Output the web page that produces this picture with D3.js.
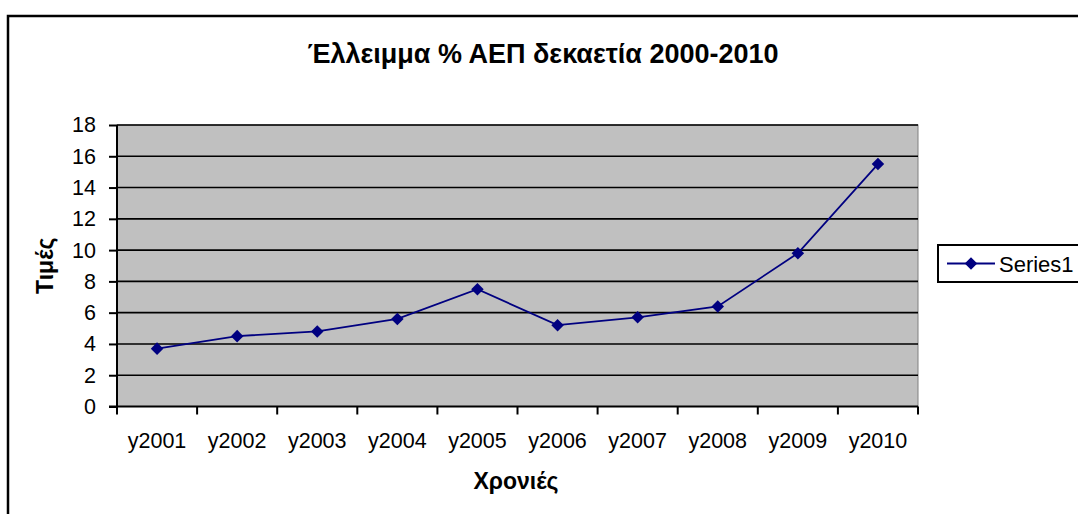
<!DOCTYPE html>
<html>
<head>
<meta charset="utf-8">
<script src="https://cdn.jsdelivr.net/npm/d3@7"></script>
<style>
	body { margin: 0; background: #fff; }
	svg text { font-family: "Liberation Sans", Arial, sans-serif; fill: #000; }
</style>
</head>
<body>
<svg id="chart" width="1078" height="514"></svg>
<script>
const years = ['y2001', 'y2002', 'y2003', 'y2004', 'y2005', 'y2006', 'y2007', 'y2008', 'y2009', 'y2010']
const values = [3.7, 4.5, 4.8, 5.6, 7.5, 5.2, 5.7, 6.4, 9.8, 15.5]
const yTicks = [0, 2, 4, 6, 8, 10, 12, 14, 16, 18]

const title = 'Έλλειμμα % ΑΕΠ δεκαετία 2000-2010'
const xTitle = 'Χρονιές'
const yTitle = 'Τιμές'
const seriesName = 'Series1'

const navy = '#000080'
const svg = d3.select('#chart')

// outer chart frame (runs off the right and bottom edge)
svg.append('rect')
	.attr('x', 8).attr('y', 16)
	.attr('width', 1100).attr('height', 520)
	.style('fill', 'none').style('stroke', '#000').style('stroke-width', 2.5)

const plot = { left: 117, top: 125, right: 918, bottom: 406.5 }

const x = d3.scaleBand()
	.domain(years)
	.range([plot.left, plot.right])

const y = d3.scaleLinear()
	.domain([0, 18])
	.range([plot.bottom, plot.top])

// plot background
svg.append('rect')
	.attr('x', plot.left).attr('y', plot.top)
	.attr('width', plot.right - plot.left).attr('height', plot.bottom - plot.top)
	.style('fill', '#c0c0c0').style('stroke', '#808080').style('stroke-width', 1)

// gridlines
svg.append('g').selectAll('line')
	.data(yTicks.filter(d => d > 0))
	.enter().append('line')
		.attr('x1', plot.left).attr('x2', plot.right)
		.attr('y1', d => y(d)).attr('y2', d => y(d))
		.style('stroke', '#000').style('stroke-width', 1.6)

// y axis
const yAxis = svg.append('g')
	.attr('transform', 'translate(' + plot.left + ',0)')
	.call(d3.axisLeft(y).tickValues(yTicks).tickSize(8).tickPadding(13))
yAxis.selectAll('path, line').style('stroke', '#000').style('stroke-width', 2)
yAxis.select('.domain').attr('d', 'M0,' + plot.top + 'V' + plot.bottom)
yAxis.selectAll('text').style('font-size', '21.5px').style('font-family', '"Liberation Sans", Arial, sans-serif')

// x axis, ticks at category boundaries
const xAxis = svg.append('g')
	.attr('transform', 'translate(0,' + plot.bottom + ')')
xAxis.append('line')
	.attr('x1', plot.left - 8).attr('x2', plot.right)
	.style('stroke', '#000').style('stroke-width', 2)
const bounds = years.map(d => x(d)).concat([x(years[years.length - 1]) + x.bandwidth()])
xAxis.selectAll('line.tick')
	.data(bounds)
	.enter().append('line')
		.attr('class', 'tick')
		.attr('x1', d => d).attr('x2', d => d)
		.attr('y1', 0).attr('y2', 8)
		.style('stroke', '#000').style('stroke-width', 2)
xAxis.selectAll('text')
	.data(years)
	.enter().append('text')
		.attr('x', d => x(d) + x.bandwidth() / 2)
		.attr('y', 41)
		.attr('text-anchor', 'middle')
		.style('font-size', '21.5px')
		.text(d => d)

// series
const data = years.map((d, i) => ({ year: d, value: values[i] }))
const line = d3.line()
	.x(d => x(d.year) + x.bandwidth() / 2)
	.y(d => y(d.value))

svg.append('path')
	.datum(data)
	.attr('d', line)
	.style('fill', 'none').style('stroke', navy).style('stroke-width', 1.8)

const diamond = d3.symbol().type(d3.symbolDiamond2).size(100)
svg.append('g').selectAll('path')
	.data(data)
	.enter().append('path')
		.attr('d', diamond)
		.attr('transform', d => 'translate(' + (x(d.year) + x.bandwidth() / 2) + ',' + y(d.value) + ')')
		.style('fill', navy)

// titles
svg.append('text')
	.attr('x', 543).attr('y', 63)
	.attr('text-anchor', 'middle')
	.style('font-size', '27px').style('font-weight', 'bold')
	.text(title)

svg.append('text')
	.attr('x', 516).attr('y', 489)
	.attr('text-anchor', 'middle')
	.style('font-size', '23px').style('font-weight', 'bold')
	.text(xTitle)

svg.append('text')
	.attr('transform', 'translate(53,' + ((plot.top + plot.bottom) / 2) + ') rotate(-90)')
	.attr('text-anchor', 'middle')
	.style('font-size', '23px').style('font-weight', 'bold')
	.text(yTitle)

// legend
const legend = svg.append('g').attr('transform', 'translate(938,245)')
legend.append('rect')
	.attr('width', 150).attr('height', 37)
	.style('fill', '#fff').style('stroke', '#000').style('stroke-width', 2)
legend.append('line')
	.attr('x1', 9).attr('x2', 57).attr('y1', 18.5).attr('y2', 18.5)
	.style('stroke', navy).style('stroke-width', 1.8)
legend.append('path')
	.attr('d', diamond)
	.attr('transform', 'translate(33,18.5)')
	.style('fill', navy)
legend.append('text')
	.attr('x', 61).attr('y', 26.5)
	.style('font-size', '22px')
	.text(seriesName)
</script>
</body>
</html>
